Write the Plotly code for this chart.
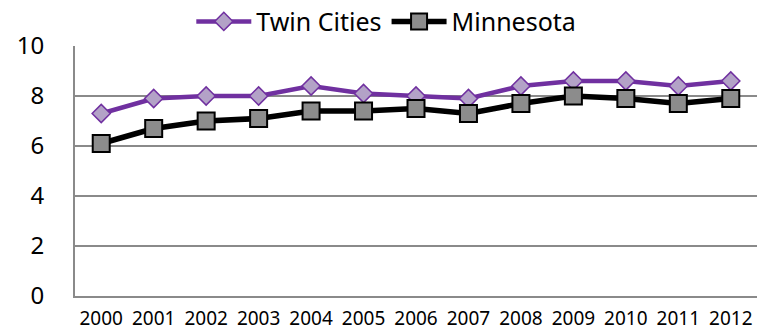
import plotly.graph_objects as go

years = ["2000", "2001", "2002", "2003", "2004", "2005", "2006",
         "2007", "2008", "2009", "2010", "2011", "2012"]
twin_cities = [7.3, 7.9, 8.0, 8.0, 8.4, 8.1, 8.0, 7.9, 8.4, 8.6, 8.6, 8.4, 8.6]
minnesota = [6.1, 6.7, 7.0, 7.1, 7.4, 7.4, 7.5, 7.3, 7.7, 8.0, 7.9, 7.7, 7.9]
y_ticks = [0, 2, 4, 6, 8, 10]

FONT = "Noto Sans"
GRID = "#8a8a8a"

fig = go.Figure()
fig.add_trace(go.Scatter(
    x=years, y=twin_cities, name="Twin Cities", mode="lines+markers",
    line=dict(color="#7030A0", width=4.5),
    marker=dict(symbol="diamond", size=14, color="#B3A2C7",
                line=dict(color="#7030A0", width=1.5)),
))
fig.add_trace(go.Scatter(
    x=years, y=minnesota, name="Minnesota", mode="lines+markers",
    line=dict(color="#000000", width=5.5),
    marker=dict(symbol="square", size=17, color="#8c8c8c",
                line=dict(color="#000000", width=2)),
))

fig.update_layout(
    width=768, height=333,
    margin=dict(l=75, r=11, t=46, b=37, autoexpand=False),
    paper_bgcolor="white", plot_bgcolor="white",
    font=dict(family=FONT, color="#000000"),
    showlegend=True,
    legend=dict(orientation="h", xref="container", yref="container",
                x=0.503, xanchor="center", y=0.935, yanchor="middle",
                font=dict(size=25, family=FONT), itemwidth=55,
                bgcolor="rgba(0,0,0,0)", tracegroupgap=0),
)
fig.update_xaxes(
    type="category", range=[-0.5, 12.5], showgrid=False, automargin=False,
    showline=True, linecolor=GRID, linewidth=2,
    ticks="", tickfont=dict(size=19, family=FONT), ticklabelstandoff=4,
)
fig.update_yaxes(
    range=[0, 10], tickvals=y_ticks, showgrid=True, gridcolor=GRID, gridwidth=1.5,
    showline=True, linecolor=GRID, linewidth=2, zeroline=False, automargin=False,
    ticks="", tickfont=dict(size=24, family=FONT), ticklabelstandoff=24,
)

fig.write_html("out.html")
